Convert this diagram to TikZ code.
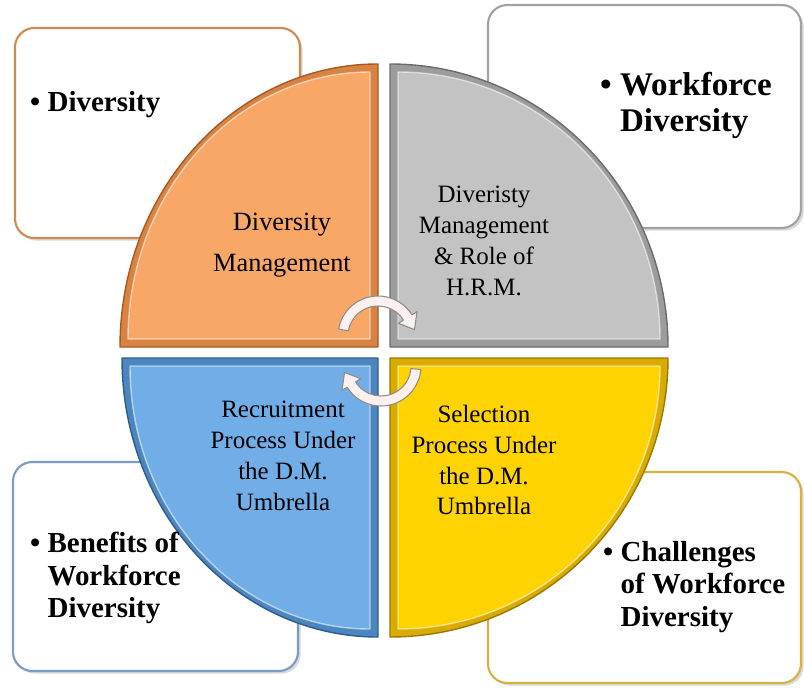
\documentclass[tikz,border=0pt]{standalone}
\usepackage{fontspec}
\setmainfont{Liberation Serif}
\usetikzlibrary{shadows}

\definecolor{qorange}{HTML}{F9A766}
\definecolor{qorangemid}{HTML}{D98343}
\definecolor{qorangedk}{HTML}{A65A22}
\definecolor{qgray}{HTML}{C3C3C3}
\definecolor{qgraymid}{HTML}{9C9C9C}
\definecolor{qgraydk}{HTML}{6C6C6C}
\definecolor{qyellow}{HTML}{FED300}
\definecolor{qyellowmid}{HTML}{D9AB00}
\definecolor{qyellowdk}{HTML}{9A7A00}
\definecolor{qblue}{HTML}{71ADE7}
\definecolor{qbluemid}{HTML}{4B86C1}
\definecolor{qbluedk}{HTML}{2E5D8D}
\definecolor{borange}{HTML}{D08A50}
\definecolor{bgray}{HTML}{A2A2A2}
\definecolor{bblue}{HTML}{7A9CC8}
\definecolor{byellow}{HTML}{D8B040}

\tikzset{
  infobox/.style={fill=white, line width=1.2pt, rounded corners=11pt,
    drop shadow={shadow xshift=1.5pt, shadow yshift=-1.5pt, opacity=0.3}},
  qouter/.style={line width=0.8pt, line join=round},
  qinner/.style={draw=white, draw opacity=0.55, line width=0.8pt, line join=round},
  qtext/.style={align=center, font=\fontsize{14.2}{17.6}\selectfont},
  btext/.style={align=left, anchor=west, font=\bfseries\fontsize{16.5}{18.4}\selectfont},
  turnarrow/.style={fill=red!6!white, draw=black!45, line width=0.6pt, line join=round}
}

\begin{document}
\begin{tikzpicture}[x=0.02cm, y=0.02cm, text=black]
\useasboundingbox (0,0) rectangle (804,691);

%Boxes behind the circle
\draw[infobox, draw=borange] (15,453) rectangle (300,663);
\draw[infobox, draw=bgray] (488,463) rectangle (801,686);
\draw[infobox, draw=bblue] (13,20) rectangle (298,229);
\draw[infobox, draw=byellow] (488,8) rectangle (801,219);

%Orange quarter
\filldraw[qouter, fill=qorangemid, draw=qorangedk] (378,344) -- (120,344) arc[start angle=180, end angle=90, x radius=258, y radius=283] -- cycle;
\filldraw[qinner, fill=qorange] (370,352) -- (128,352) arc[start angle=180, end angle=90, x radius=242, y radius=267] -- cycle;
%Gray quarter
\filldraw[qouter, fill=qgraymid, draw=qgraydk] (390,344) -- (390,627) arc[start angle=90, end angle=0, x radius=278, y radius=283] -- cycle;
\filldraw[qinner, fill=qgray] (398,352) -- (398,619) arc[start angle=90, end angle=0, x radius=262, y radius=267] -- cycle;
%Yellow quarter
\filldraw[qouter, fill=qyellowmid, draw=qyellowdk] (390,333) -- (668,333) arc[start angle=0, end angle=-90, x radius=278, y radius=279] -- cycle;
\filldraw[qinner, fill=qyellow] (398,325) -- (660,325) arc[start angle=0, end angle=-90, x radius=262, y radius=263] -- cycle;
%Blue quarter
\filldraw[qouter, fill=qbluemid, draw=qbluedk] (378,333) -- (378,54) arc[start angle=-90, end angle=-180, x radius=256, y radius=279] -- cycle;
\filldraw[qinner, fill=qblue] (370,325) -- (370,62) arc[start angle=-90, end angle=-180, x radius=240, y radius=263] -- cycle;

%Quarter texts
\node[qtext, font=\fontsize{15}{17.6}\selectfont] (qdm) at (282,446) {Diversity\\[5.7pt]Management};
\node[qtext] (qhrm) at (484,450) {Diveristy\\Management\\\& Role of\\H.R.M.};
\node[qtext] (qrec) at (283,235) {Recruitment\\Process Under\\the D.M.\\Umbrella};
\node[qtext] (qsel) at (484,231) {Selection\\Process Under\\the D.M.\\Umbrella};

%Box texts
\node[btext] (bdiv) at (24,586) {\textbullet\ Diversity};
\node[btext, font=\bfseries\fontsize{18.8}{20.5}\selectfont] (bwfd) at (594,586) {\textbullet\ Workforce\\\phantom{\textbullet\ }Diversity};
\node[btext] (bben) at (24,113) {\textbullet\ Benefits of\\\phantom{\textbullet\ }Workforce\\\phantom{\textbullet\ }Diversity};
\node[btext] (bchal) at (597,104) {\textbullet\ Challenges\\\phantom{\textbullet\ }of Workforce\\\phantom{\textbullet\ }Diversity};

%Cycle arrows
\begin{scope}[shift={(378,355)}]
\filldraw[turnarrow] (170:40) arc[start angle=170, end angle=32, radius=40] -- (32:46) -- (10:37) -- (32:24) -- (32:30) arc[start angle=32, end angle=170, radius=30] -- cycle;
\end{scope}
\begin{scope}[shift={(381,325)}]
\filldraw[turnarrow] (-5:40) arc[start angle=-5, end angle=-148, radius=40] -- (-148:46) -- (190:37) -- (-148:24) -- (-148:30) arc[start angle=-148, end angle=-5, radius=30] -- cycle;
\end{scope}

\end{tikzpicture}
\end{document}
